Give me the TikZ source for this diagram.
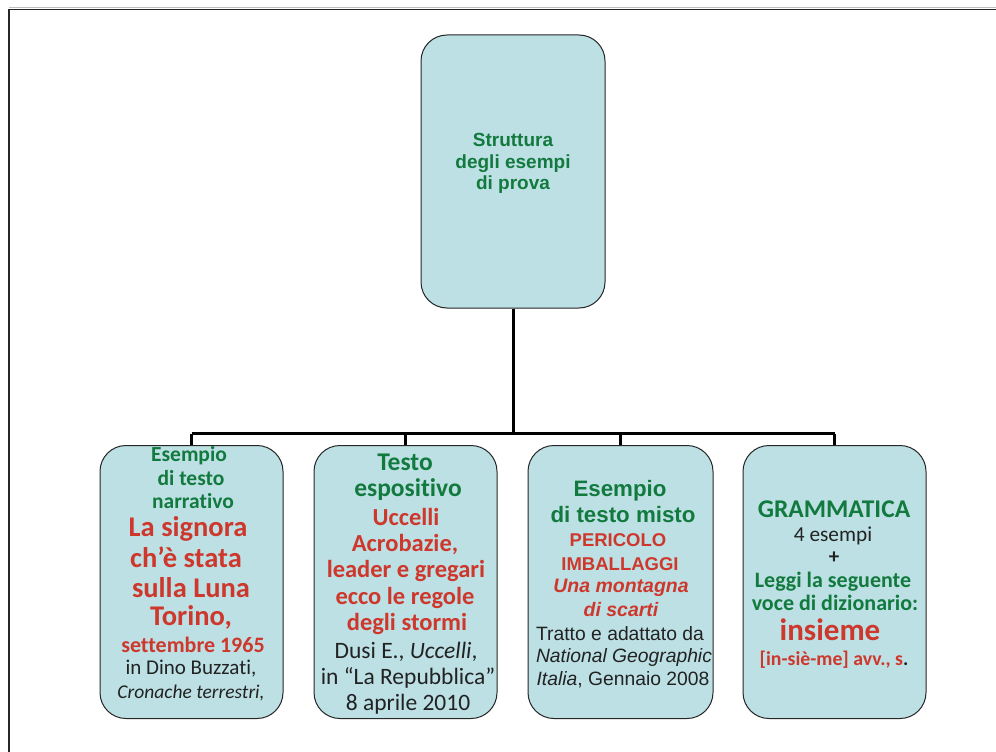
\documentclass[tikz,border=0pt]{standalone}
\usepackage{fontspec}
\setmainfont{Carlito}[Ligatures=NoCommon]
\newfontfamily\arialf{Liberation Sans}
\definecolor{boxfill}{RGB}{188,224,228}
\definecolor{mygreen}{RGB}{18,122,62}
\definecolor{myred}{RGB}{206,56,44}
\definecolor{mytext}{RGB}{34,34,34}
\begin{document}
\begin{tikzpicture}[x=1pt,y=-1pt,
  box/.style={draw=black!85, line width=1pt, fill=boxfill, rounded corners=26pt, minimum width=184pt, minimum height=273pt, inner sep=0pt},
  conn/.style={line width=3pt, black},
  tl/.style={anchor=base, inner sep=0pt},
  gC/.style={tl, text=mygreen, font=\fontsize{#1}{#1}\selectfont\bfseries},
  rC/.style={tl, text=myred, font=\fontsize{#1}{#1}\selectfont\bfseries},
  kC/.style={tl, text=mytext, font=\fontsize{#1}{#1}\selectfont},
  kCi/.style={tl, text=mytext, font=\fontsize{#1}{#1}\selectfont\itshape},
  gA/.style={tl, text=mygreen, font=\arialf\fontsize{#1}{#1}\selectfont\bfseries},
  rA/.style={tl, text=myred, font=\arialf\fontsize{#1}{#1}\selectfont\bfseries},
  rAi/.style={tl, text=myred, font=\arialf\fontsize{#1}{#1}\selectfont\bfseries\itshape},
  kA/.style={tl, text=mytext, font=\arialf\fontsize{#1}{#1}\selectfont},
]
\useasboundingbox (0,0) rectangle (996,752);
\fill[white] (0,0) rectangle (996,752);
% frame
\draw[black!25, line width=0.8pt] (9,7.6) -- (996,7.6);
\draw[black!85, line width=1.2pt] (9,752) -- (9,9.3) -- (996,9.3);

% boxes
\node[box] (top) at (513,171.5) {};
\node[box, minimum width=183pt] (b1) at (191.5,582) {};
\node[box, minimum width=183pt] (b2) at (405.5,582) {};
\node[box, minimum width=185pt] (b3) at (620.5,582) {};
\node[box, minimum width=183pt] (b4) at (834.5,582) {};

% connectors
\coordinate (bus) at (513,433.5);
\draw[conn] (top.south) -- (top.south |- bus);
\draw[conn] (b1.north |- bus) -- (b4.north |- bus);
\draw[conn] (b1.north |- bus) -- (b1.north);
\draw[conn] (b2.north |- bus) -- (b2.north);
\draw[conn] (b3.north |- bus) -- (b3.north);
\draw[conn] (b4.north |- bus) -- (b4.north);

% top box text
\node[gA=19] (t1) at (513,146.7) {Struttura};
\node[gA=19] (t2) at (513,168) {degli esempi};
\node[gA=19] (t3) at (513,189.5) {di prova};

% box 1
\node[gC=21.5] (a1) at (189,461.7) {Esempio};
\node[gC=21.5] (a2) at (191,485) {di testo};
\node[gC=21.5] (a3) at (193,508) {narrativo};
\node[rC=28.5] (a4) at (188,536) {La signora};
\node[rC=28.5] (a5) at (186,567) {ch’è stata};
\node[rC=28.5] (a6) at (191,597) {sulla Luna};
\node[rC=28.5] (a7) at (191,625) {Torino,};
\node[rC=22] (a8) at (193,652) {settembre 1965};
\node[kC=21] (a9) at (191,674) {in Dino Buzzati,};
\node[kCi=19.5] (a10) at (191,698) {Cronache terrestri,};

% box 2
\node[gC=25.5] (c1) at (405,470.7) {Testo};
\node[gC=25.5] (c2) at (408,496.7) {espositivo};
\node[rC=24.5] (c3) at (406,525) {Uccelli};
\node[rC=24.5] (c4) at (405,551.7) {Acrobazie,};
\node[rC=24.5] (c5) at (406,577.7) {leader e gregari};
\node[rC=24.5] (c6) at (405,604) {ecco le regole};
\node[rC=24.5] (c7) at (407,630) {degli stormi};
\node[kC=23.5] (c8) at (406,658) {Dusi E., \textit{Uccelli},};
\node[kC=23.5] (c9) at (408,684) {in “La Repubblica”};
\node[kC=23.5] (c10) at (408,710) {8 aprile 2010};

% box 3
\node[gA=22.3] (d1) at (620,496.7) {Esempio};
\node[gA=22.3] (d2) at (623,522.3) {di testo misto};
\node[rA=18.5] (d3) at (618,546.7) {PERICOLO};
\node[rA=18.5] (d4) at (620,570) {IMBALLAGGI};
\node[rAi=19.5] (d5) at (621,592.7) {Una montagna};
\node[rAi=19.5] (d6) at (621,616.7) {di scarti};
\node[kA=19.3] (d7) at (620,640) {Tratto e adattato da};
\node[kA=19.3] (d8) at (624,662) {\itshape National Geographic};
\node[kA=19.3] (d9) at (623,685) {\textit{Italia}, Gennaio 2008};

% box 4
\node[gC=25.5] (e1) at (834,517.3) {GRAMMATICA};
\node[kC=21.3] (e2) at (833,541) {4 esempi};
\node[tl, text=mytext, font=\fontsize{21}{21}\selectfont\bfseries] (e3) at (834,563) {+};
\node[gC=22] (e4) at (833,587.7) {Leggi la seguente};
\node[gC=22] (e5) at (835,610) {voce di dizionario:};
\node[rC=31] (e6) at (830,640.7) {insieme};
\node[rC=19.8] (e7) at (834,665) {[in-siè-me] avv., s\textcolor{mytext}{.}};
\end{tikzpicture}
\end{document}
